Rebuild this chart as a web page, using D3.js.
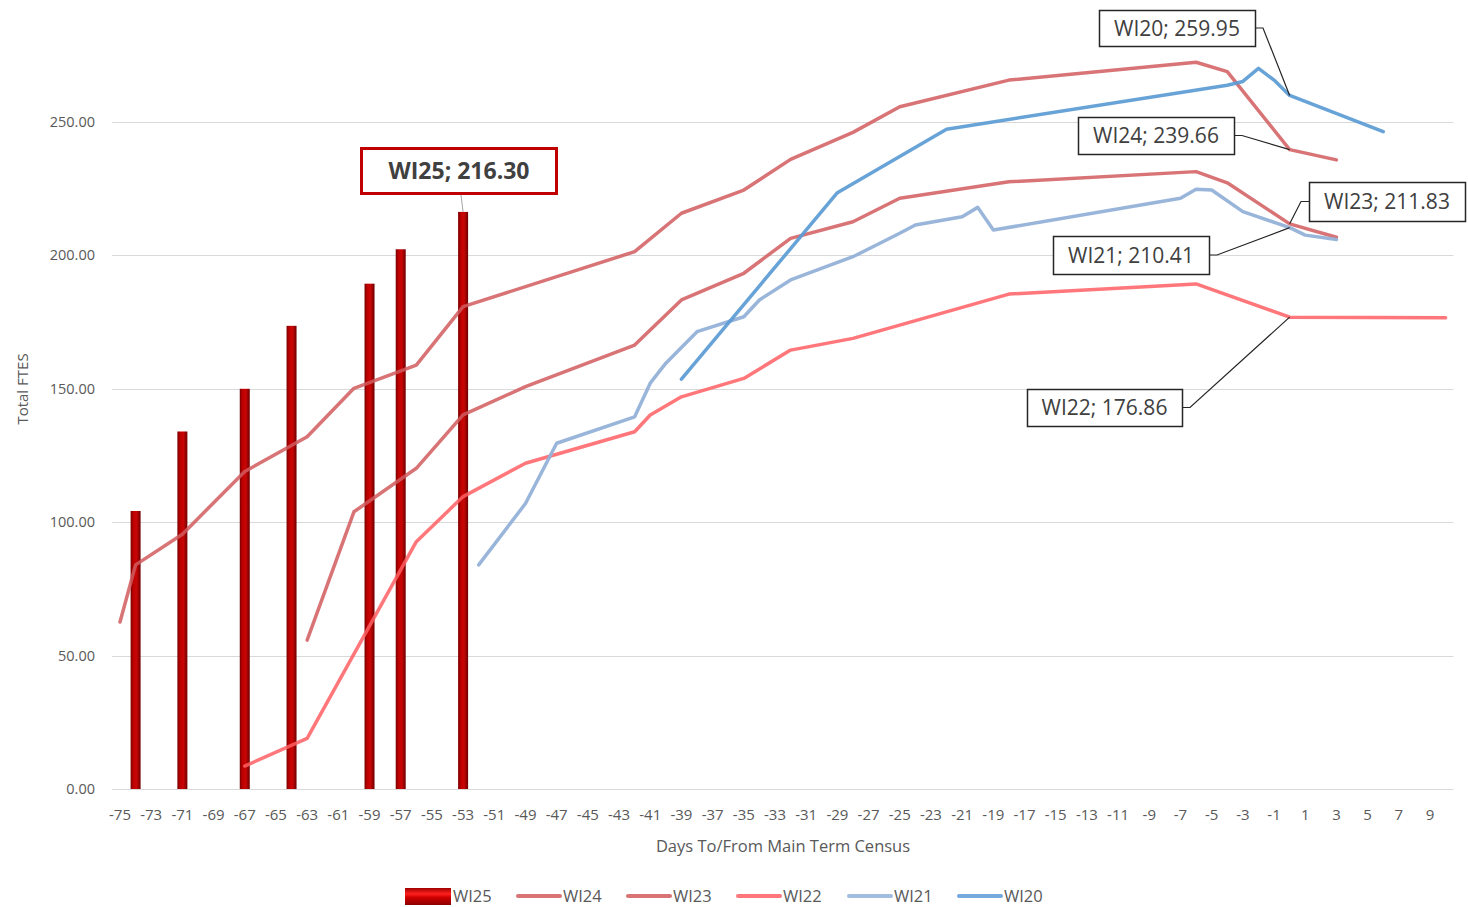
<!DOCTYPE html>
<html>
<head>
<meta charset="utf-8">
<script src="https://cdn.jsdelivr.net/npm/d3@7"></script>
<style>
  body { margin: 0; background: #fff; }
  svg { display: block; font-family: "Open Sans", "Liberation Sans", sans-serif; }
</style>
</head>
<body>
<svg class="chart"></svg>
<script>
// days on the category axis
var days = d3.range(-75, 11);
var yTicks = [0, 50, 100, 150, 200, 250];

// WI25 (bars)
var wi25Days = [-74, -71, -67, -64, -59, -57, -53];
var wi25 = [104.2, 134.0, 150.0, 173.6, 189.4, 202.3, 216.30];

// WI24
var wi24Days = [-75, -74, -71, -67, -63, -60, -56, -53, -42, -39, -35, -32, -28, -25, -18, -6, -4, 0, 3];
var wi24 = [62.6, 84.0, 95.5, 119.0, 132.0, 150.2, 158.9, 180.8, 201.4, 215.8, 224.5, 236.0, 246.1, 255.7, 265.7, 272.4, 268.9, 239.66, 235.8];

// WI23
var wi23Days = [-63, -60, -56, -53, -49, -42, -39, -35, -32, -28, -25, -18, -6, -4, 0, 3];
var wi23 = [55.8, 103.9, 120.2, 140.2, 150.8, 166.4, 183.3, 193.3, 206.4, 212.6, 221.4, 227.6, 231.4, 227.2, 211.83, 206.8];

// WI22
var wi22Days = [-67, -63, -56, -53, -49, -42, -41, -39, -35, -32, -28, -18, -6, 0, 10];
var wi22 = [8.6, 19.0, 92.7, 109.6, 122.1, 133.9, 140.2, 147.0, 153.9, 164.5, 168.9, 185.5, 189.3, 176.86, 176.6];

// WI21
var wi21Days = [-52, -49, -47, -42, -41, -40, -38, -35, -34, -32, -28, -25, -24, -21, -20, -19, -7, -6, -5, -3, 0, 1, 3];
var wi21 = [84.0, 107.0, 129.6, 139.5, 152.1, 159.6, 171.4, 177.0, 183.3, 190.8, 199.5, 208.3, 211.4, 214.5, 218.0, 209.5, 221.4, 224.8, 224.5, 216.4, 210.41, 207.6, 206.0];

// WI20
var wi20Days = [-39, -29, -22, -4, -3, -2, -1, 0, 6];
var wi20 = [153.6, 223.5, 247.3, 263.8, 265.2, 270.1, 265.7, 259.95, 246.4];

var width = 1468, height = 907;

var x = d3.scaleBand().domain(days).range([112.2, 1453.4]);
var y = d3.scaleLinear().domain([0, 300]).range([789, -11.4]);
var cx = d => x(d) + x.bandwidth() / 2;

var svg = d3.select(".chart")
    .attr("width", width)
    .attr("height", height);

var defs = svg.append("defs");
var grad = defs.append("linearGradient").attr("id", "barGrad")
    .attr("x1", 0).attr("x2", 1).attr("y1", 0).attr("y2", 0);
grad.append("stop").attr("offset", "0%").attr("stop-color", "#7a0000");
grad.append("stop").attr("offset", "30%").attr("stop-color", "#c00000");
grad.append("stop").attr("offset", "60%").attr("stop-color", "#c80606");
grad.append("stop").attr("offset", "100%").attr("stop-color", "#6e0000");

var lgrad = defs.append("linearGradient").attr("id", "legGrad")
    .attr("x1", 0).attr("x2", 0).attr("y1", 0).attr("y2", 1);
lgrad.append("stop").attr("offset", "0%").attr("stop-color", "#a00000");
lgrad.append("stop").attr("offset", "35%").attr("stop-color", "#ff2020");
lgrad.append("stop").attr("offset", "55%").attr("stop-color", "#d00000");
lgrad.append("stop").attr("offset", "100%").attr("stop-color", "#8a0000");

// gridlines
svg.append("g")
  .selectAll("line")
  .data(yTicks)
  .join("line")
    .attr("x1", 112.2)
    .attr("x2", 1453.4)
    .attr("y1", d => Math.round(y(d)) + 0.5)
    .attr("y2", d => Math.round(y(d)) + 0.5)
    .attr("stroke", "#d9d9d9")
    .attr("stroke-width", 1);

// y tick labels
svg.append("g")
  .selectAll("text")
  .data(yTicks)
  .join("text")
    .attr("x", 95)
    .attr("y", d => y(d))
    .attr("dy", "0.35em")
    .attr("text-anchor", "end")
    .attr("fill", "#595959")
    .style("font-size", "14.5px")
    .text(d => d.toFixed(2));

// x tick labels, every second day
svg.append("g")
  .selectAll("text")
  .data(days.filter((d, i) => i % 2 == 0))
  .join("text")
    .attr("x", d => cx(d))
    .attr("y", 820)
    .attr("text-anchor", "middle")
    .attr("fill", "#595959")
    .style("font-size", "15px")
    .text(d => d);

svg.append("text")
    .attr("x", 783)
    .attr("y", 852)
    .attr("text-anchor", "middle")
    .attr("fill", "#595959")
    .style("font-size", "16.5px")
    .text("Days To/From Main Term Census");

svg.append("text")
    .attr("transform", "translate(28,389) rotate(-90)")
    .attr("text-anchor", "middle")
    .attr("fill", "#595959")
    .style("font-size", "15px")
    .text("Total FTES");

// WI25 bars
var barW = 10;
svg.append("g")
  .selectAll("rect")
  .data(wi25Days)
  .join("rect")
    .attr("x", d => cx(d) - barW / 2)
    .attr("y", (d, i) => y(wi25[i]))
    .attr("width", barW)
    .attr("height", (d, i) => y(0) - y(wi25[i]))
    .attr("fill", "url(#barGrad)");

// lines
var series = [
  {name: "WI24", days: wi24Days, values: wi24, color: "#d15a5e", opacity: 0.85},
  {name: "WI23", days: wi23Days, values: wi23, color: "#d15a5e", opacity: 0.85},
  {name: "WI22", days: wi22Days, values: wi22, color: "#ff5f63", opacity: 0.85},
  {name: "WI21", days: wi21Days, values: wi21, color: "#93b1d8", opacity: 0.95},
  {name: "WI20", days: wi20Days, values: wi20, color: "#5b9bd5", opacity: 0.92}
];

var line = d3.line()
  .x(d => cx(d[0]))
  .y(d => y(d[1]));

series.forEach(function(s) {
  svg.append("path")
    .datum(s.days.map((d, i) => [d, s.values[i]]))
    .attr("fill", "none")
    .attr("stroke", s.color)
    .attr("stroke-opacity", s.opacity)
    .attr("stroke-linejoin", "round")
    .attr("stroke-linecap", "round")
    .attr("stroke-width", 3.5)
    .attr("d", line);
});

// data callouts
var callouts = [
  {name: "WI20", day: 0, value: wi20[wi20Days.indexOf(0)], box: [1099, 10, 156, 36], side: "right"},
  {name: "WI24", day: 0, value: wi24[wi24Days.indexOf(0)], box: [1078, 117, 156, 37], side: "right"},
  {name: "WI23", day: 0, value: wi23[wi23Days.indexOf(0)], box: [1309, 182, 156, 39], side: "left"},
  {name: "WI21", day: 0, value: wi21[wi21Days.indexOf(0)], box: [1053, 236, 156, 38], side: "right"},
  {name: "WI22", day: 0, value: wi22[wi22Days.indexOf(0)], box: [1027, 389, 155, 37], side: "right"}
];

callouts.forEach(function(c) {
  var b = c.box;
  var ym = b[1] + b[3] / 2;
  var x0 = c.side == "right" ? b[0] + b[2] : b[0];
  var x1 = c.side == "right" ? x0 + 8 : x0 - 8;
  svg.append("path")
    .attr("d", d3.line()([[x0, ym], [x1, ym], [cx(c.day), y(c.value)]]))
    .attr("fill", "none")
    .attr("stroke", "#262626")
    .attr("stroke-width", 1.2);
  svg.append("rect")
    .attr("x", b[0] + 0.5).attr("y", b[1] + 0.5)
    .attr("width", b[2]).attr("height", b[3])
    .attr("fill", "#fff")
    .attr("stroke", "#262626")
    .attr("stroke-width", 1.5);
  svg.append("text")
    .attr("x", b[0] + b[2] / 2)
    .attr("y", ym)
    .attr("dy", "0.36em")
    .attr("text-anchor", "middle")
    .attr("fill", "#404040")
    .style("font-size", "21px")
    .text(c.name + "; " + c.value.toFixed(2));
});

// WI25 callout
var lastBar = wi25Days.length - 1;
svg.append("line")
    .attr("x1", 461).attr("y1", 195)
    .attr("x2", cx(wi25Days[lastBar])).attr("y2", y(wi25[lastBar]))
    .attr("stroke", "#a6a6a6")
    .attr("stroke-width", 1);
svg.append("rect")
    .attr("x", 361.5).attr("y", 148.5)
    .attr("width", 195).attr("height", 45)
    .attr("fill", "#fff")
    .attr("stroke", "#c00000")
    .attr("stroke-width", 3);
svg.append("text")
    .attr("x", 459)
    .attr("y", 171)
    .attr("dy", "0.36em")
    .attr("text-anchor", "middle")
    .attr("fill", "#404040")
    .style("font-size", "23px")
    .style("font-weight", "bold")
    .text("WI25; " + wi25[lastBar].toFixed(2));

// legend
var legend = svg.append("g");
legend.append("rect")
    .attr("x", 405).attr("y", 888)
    .attr("width", 46).attr("height", 17)
    .attr("fill", "url(#legGrad)");
legend.append("text")
    .attr("x", 453).attr("y", 896)
    .attr("dy", "0.36em")
    .attr("fill", "#595959")
    .style("font-size", "16.5px")
    .text("WI25");

var legX = [516, 626, 736, 847, 957];
series.forEach(function(s, i) {
  legend.append("line")
    .attr("x1", legX[i] + 2).attr("x2", legX[i] + 44)
    .attr("y1", 896).attr("y2", 896)
    .attr("stroke", s.color)
    .attr("stroke-opacity", 0.85)
    .attr("stroke-linecap", "round")
    .attr("stroke-width", 4);
  legend.append("text")
    .attr("x", legX[i] + 47).attr("y", 896)
    .attr("dy", "0.36em")
    .attr("fill", "#595959")
    .style("font-size", "16.5px")
    .text(s.name);
});
</script>
</body>
</html>
